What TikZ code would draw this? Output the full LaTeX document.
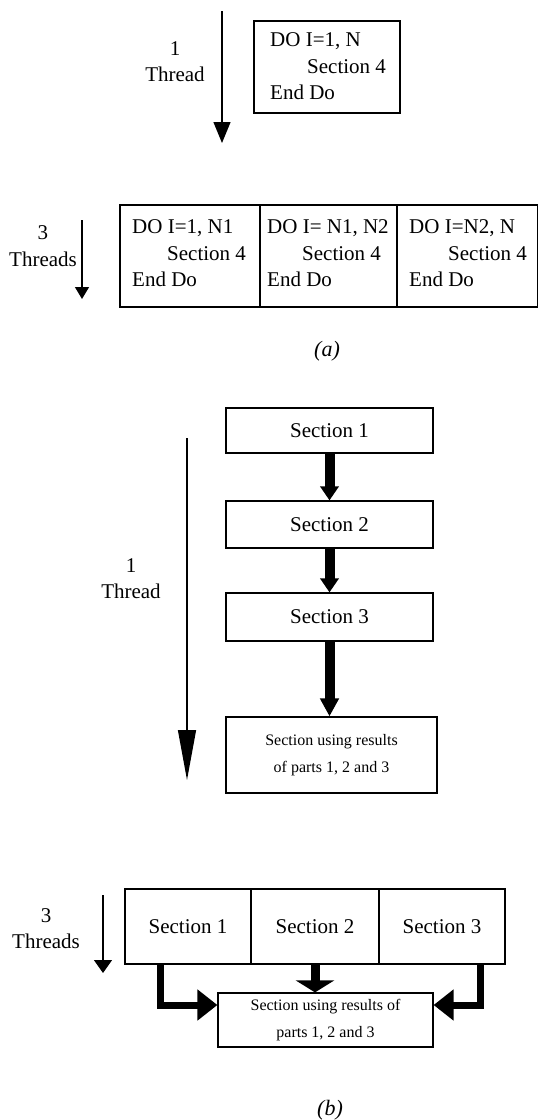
\documentclass[tikz,border=0pt]{standalone}
\usepackage{fontspec}
\setmainfont{Liberation Serif}
\usetikzlibrary{arrows.meta}
\begin{document}
\begin{tikzpicture}[x=1pt,y=-1pt,
  box/.style={draw, line width=1.2pt, inner sep=0pt},
  big/.style={font=\fontsize{21}{26.5}\selectfont},
  small/.style={font=\fontsize{16}{26.5}\selectfont},
  code/.style={big, inner sep=0pt, anchor=west, align=left},
  lbl/.style={big, inner sep=0pt, align=center},
  captxt/.style={font=\fontsize{22}{24}\selectfont\itshape, inner sep=0pt},
  thinarrow/.style n args={2}{line width=1.3pt, -{Triangle[width=#1,length=#2]}},
  fatarrow/.style n args={3}{line width=#1, -{Triangle[width=#2,length=#3]}}
]
\useasboundingbox (0,0) rectangle (538,1120);

% ---------------- (a) ----------------
\coordinate (a1s) at (222,11);
\coordinate (a1e) at (222,143);
\draw[thinarrow={17pt}{21pt}] (a1s) -- (a1e);
\node[lbl] (a1l) at (175,61.5) {1\\Thread};

\node[box, minimum width=146pt, minimum height=92pt] (boxA) at (327,67) {};
\node[code] (boxAt) at (270,66.5) {DO I=1, N\\\hspace*{37pt}Section 4\\End Do};

\coordinate (a3s) at (82,220);
\coordinate (a3e) at (82,299);
\draw[thinarrow={14pt}{12pt}] (a3s) -- (a3e);
\node[lbl] (a3l) at (43,246) {3\\Threads};

\node[box, minimum width=140pt, minimum height=102pt] (r1) at (190,256) {};
\node[box, minimum width=137pt, minimum height=102pt] (r2) at (328.5,256) {};
\node[box, minimum width=141pt, minimum height=102pt] (r3) at (467.5,256) {};
\node[code] (r1t) at (132,253.5) {DO I=1, N1\\\hspace*{35pt}Section 4\\End Do};
\node[code] (r2t) at (267,253.5) {DO I= N1, N2\\\hspace*{35pt}Section 4\\End Do};
\node[code] (r3t) at (409,253.5) {DO I=N2, N\\\hspace*{39pt}Section 4\\End Do};

\node[captxt] (capa) at (327,351) {(a)};

% ---------------- (b) ----------------
\coordinate (b1s) at (187,438);
\coordinate (b1e) at (187,780);
\draw[thinarrow={18pt}{50pt}] (b1s) -- (b1e);
\node[lbl] (b1l) at (131,578.5) {1\\Thread};

\node[box, big, minimum width=207pt, minimum height=45pt] (s1) at (329.5,430.5) {Section 1};
\node[box, big, minimum width=207pt, minimum height=47pt] (s2) at (329.5,524.5) {Section 2};
\node[box, big, minimum width=207pt, minimum height=48pt] (s3) at (329.5,617) {Section 3};
\node[box, small, align=center, minimum width=211pt, minimum height=76pt] (fin) at (331.5,755) {Section using results\\of parts 1, 2 and 3};

\draw[fatarrow={10pt}{18pt}{14pt}] (s1.south) -- (s2.north);
\draw[fatarrow={10pt}{18pt}{14pt}] (s2.south) -- (s3.north);
\draw[fatarrow={10pt}{18pt}{18pt}] (s3.south) -- (s3.south |- fin.north);

\coordinate (b3s) at (103,895);
\coordinate (b3e) at (103,973);
\draw[thinarrow={18pt}{13pt}] (b3s) -- (b3e);
\node[lbl] (b3l) at (46,928.5) {3\\Threads};

\node[box, big, minimum width=126pt, minimum height=75pt] (p1) at (188,926.5) {Section 1};
\node[box, big, minimum width=128pt, minimum height=75pt] (p2) at (315,926.5) {Section 2};
\node[box, big, minimum width=126pt, minimum height=75pt] (p3) at (442,926.5) {Section 3};
\node[box, small, align=center, minimum width=215pt, minimum height=54pt] (pf) at (325.5,1020) {Section using results of\\parts 1, 2 and 3};

\draw[fatarrow={9pt}{38pt}{12pt}] (p2.south) -- (p2.south |- pf.north);
\draw[fatarrow={7pt}{30pt}{20pt}] ([xshift=-28pt]p1.south) |- ([yshift=15pt]pf.west);
\draw[fatarrow={7pt}{30pt}{20pt}] ([xshift=38pt]p3.south) |- ([yshift=15pt]pf.east);

\node[captxt] (capb) at (330,1110) {(b)};
\end{tikzpicture}
\end{document}
